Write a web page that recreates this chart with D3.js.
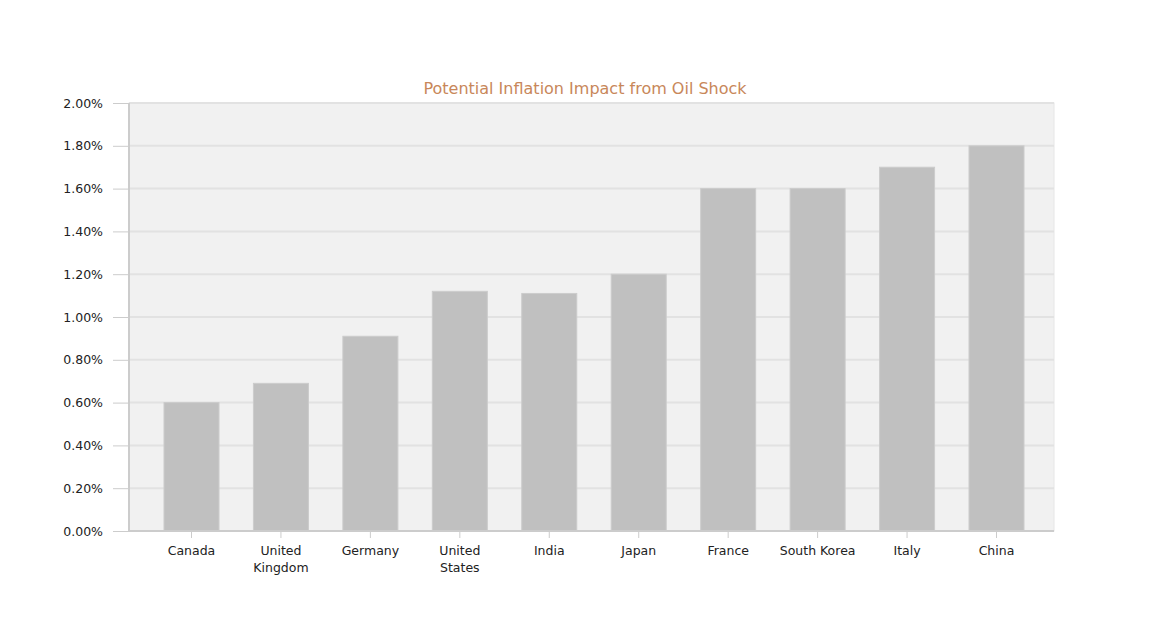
<!DOCTYPE html>
<html>
<head>
<meta charset="utf-8">
<script src="https://cdn.jsdelivr.net/npm/d3@7"></script>
<style>
  body { margin: 0; background: #fff; }
  text { font-family: "DejaVu Sans", sans-serif; }
</style>
</head>
<body>
<div id="chart"></div>
<script>
// Data
const countries = ["Canada", "United Kingdom", "Germany", "United States", "India",
                   "Japan", "France", "South Korea", "Italy", "China"];
const impact = [0.60, 0.69, 0.91, 1.12, 1.11, 1.20, 1.60, 1.60, 1.70, 1.80];
const yTicks = [0, 0.2, 0.4, 0.6, 0.8, 1.0, 1.2, 1.4, 1.6, 1.8, 2.0];

// Dimensions
const width = 1170, height = 629;
const plotLeft = 129, plotRight = 1054, plotTop = 103, plotBottom = 531;
const labelFont = "'DejaVu Sans', sans-serif";

const svg = d3.select("#chart")
  .append("svg")
  .attr("width", width)
  .attr("height", height);

const x = d3.scaleBand()
  .domain(countries)
  .range([147, 1041])
  .paddingInner(0.385)
  .paddingOuter(0.19);

const y = d3.scaleLinear()
  .domain([0, 2])
  .range([plotBottom, plotTop]);

// plot background
svg.append("rect")
  .attr("x", plotLeft).attr("y", plotTop)
  .attr("width", plotRight - plotLeft).attr("height", plotBottom - plotTop)
  .attr("fill", "#f1f1f1")
  .attr("stroke", "#e6e6e6");

// gridlines
svg.append("g")
  .selectAll("line")
  .data(yTicks)
  .join("line")
  .attr("x1", plotLeft).attr("x2", plotRight)
  .attr("y1", d => y(d)).attr("y2", d => y(d))
  .attr("stroke", "#e2e2e2")
  .attr("stroke-width", 2);

// bars
svg.append("g")
  .selectAll("rect")
  .data(impact)
  .join("rect")
  .attr("x", (d, i) => x(countries[i]))
  .attr("y", d => y(d))
  .attr("width", x.bandwidth())
  .attr("height", d => y(0) - y(d))
  .attr("fill", "#c0c0c0")
  .attr("stroke", "#cccccc")
  .attr("stroke-width", 1);

// y axis
const yAxis = svg.append("g")
  .attr("transform", `translate(${plotLeft},0)`)
  .call(d3.axisLeft(y).tickValues(yTicks).tickFormat(d => d.toFixed(2) + "%").tickSize(16).tickPadding(10));
yAxis.select(".domain").attr("stroke", "#cccccc").attr("stroke-width", 2).attr("d", `M0,${plotTop}V${plotBottom}`);
yAxis.selectAll(".tick line").attr("stroke", "#cccccc");
yAxis.selectAll(".tick text")
  .attr("font-size", 12.5)
  .attr("fill", "#222")
  .style("font-family", labelFont);

// x axis
const xAxis = svg.append("g")
  .attr("transform", `translate(0,${plotBottom})`)
  .call(d3.axisBottom(x).tickSize(7).tickPadding(8));
xAxis.select(".domain").attr("stroke", "#cccccc").attr("stroke-width", 2).attr("d", `M${plotLeft},0H${plotRight}`);
xAxis.selectAll(".tick line").attr("stroke", "#cccccc");
xAxis.selectAll(".tick text")
  .attr("font-size", 12.5)
  .attr("fill", "#222")
  .style("font-family", labelFont)
  .each(function(d) {
    const t = d3.select(this);
    const words = d.split(" ");
    if (d === "South Korea" || words.length === 1) return;
    t.text(null);
    words.forEach((w, i) => {
      t.append("tspan").attr("x", 0).attr("dy", i === 0 ? "0.71em" : "1.35em").text(w);
    });
  });

// title
svg.append("text")
  .attr("x", 585)
  .attr("y", 94)
  .attr("text-anchor", "middle")
  .attr("font-size", 16)
  .attr("fill", "#c8875a")
  .style("font-family", labelFont)
  .text("Potential Inflation Impact from Oil Shock");
</script>
</body>
</html>
